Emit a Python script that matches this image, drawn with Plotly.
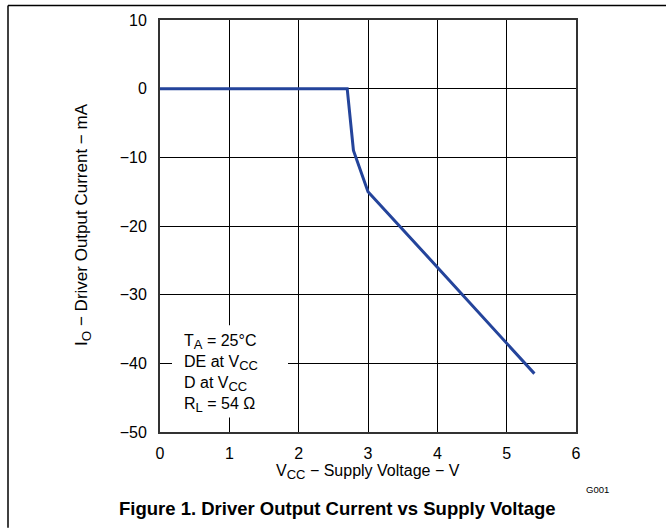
import plotly.graph_objects as go

# Data
vcc = [0, 2.7, 2.79, 3.0, 4.0, 5.4]
io_ma = [0, 0, -9, -15, -26, -41.5]

x_ticks = [0, 1, 2, 3, 4, 5, 6]
y_ticks = [10, 0, -10, -20, -30, -40, -50]

cond_lines = [
    "T<sub><span style='font-size:13px'>A</span></sub> = 25°C",
    "DE at V<sub><span style='font-size:13px'>CC</span></sub>",
    "D at V<sub><span style='font-size:13px'>CC</span></sub>",
    "R<sub><span style='font-size:13px'>L</span></sub> = 54 Ω",
]
x_title = "V<sub><span style='font-size:13px'>CC</span></sub> − Supply Voltage − V"
y_title = "I<sub><span style='font-size:13.5px'>O</span></sub> − Driver Output Current − mA"
fig_title = "<b>Figure 1. Driver Output Current vs Supply Voltage</b>"

FONT = "Arial, Liberation Sans, sans-serif"
W, H = 671, 529
ML, MR, MT, MB = 160, 95, 17.5, 96.5
PW, PH = W - ML - MR, H - MT - MB


def px(xp):
    return (xp - ML) / PW


def py(yp):
    return (H - MB - yp) / PH


fig = go.Figure()
fig.add_trace(go.Scatter(
    x=vcc, y=io_ma, mode="lines",
    line=dict(color="#24449b", width=3),
    showlegend=False, hoverinfo="skip",
))

axis_common = dict(
    showgrid=True, gridcolor="black", gridwidth=1, zeroline=False,
    showline=True, linecolor="#333333", linewidth=2, mirror=True,
    ticks="", ticklen=0, tickfont=dict(size=16, family=FONT),
)

fig.update_layout(
    width=W, height=H,
    margin=dict(l=ML, r=MR, t=MT, b=MB, pad=0),
    paper_bgcolor="white", plot_bgcolor="white",
    font=dict(family=FONT, size=16, color="black"),
    xaxis=dict(range=[0, 6], tickvals=x_ticks, ticklabelstandoff=6, **axis_common),
    yaxis=dict(range=[-50, 10], tickvals=y_ticks, ticklabelstandoff=8, **axis_common),
)

shapes = [
    # white box behind condition text
    dict(type="rect", xref="paper", yref="paper", layer="above",
         x0=px(172), x1=px(288), y0=py(418), y1=py(325),
         fillcolor="white", line=dict(width=0)),
    # outer frame (left and top)
    dict(type="line", xref="paper", yref="paper", layer="above",
         x0=px(8), x1=px(8), y0=py(3), y1=py(529),
         line=dict(color="black", width=1.5)),
    dict(type="line", xref="paper", yref="paper", layer="above",
         x0=px(8), x1=px(666), y0=py(3), y1=py(3),
         line=dict(color="black", width=1.5)),
]
fig.update_layout(shapes=shapes)

annots = []
for i, t in enumerate(cond_lines):
    annots.append(dict(
        xref="paper", yref="paper", x=px(182), y=py(342 + 21 * i),
        xanchor="left", yanchor="middle", align="left", showarrow=False,
        text=t, font=dict(size=16, family=FONT)))
annots += [
    dict(xref="paper", yref="paper", x=0.5, y=py(473),
         xanchor="center", yanchor="middle", showarrow=False,
         text=x_title, font=dict(size=16, family=FONT)),
    dict(xref="paper", yref="paper", x=px(83), y=py(224), textangle=-90,
         xanchor="center", yanchor="middle", showarrow=False,
         text=y_title, font=dict(size=17, family=FONT)),
    dict(xref="paper", yref="paper", x=px(597), y=py(490),
         xanchor="center", yanchor="middle", showarrow=False,
         text="G001", font=dict(size=9.5, family=FONT)),
    dict(xref="paper", yref="paper", x=px(337), y=py(510),
         xanchor="center", yanchor="middle", showarrow=False,
         text=fig_title, font=dict(size=18.5, family=FONT)),
]
fig.update_layout(annotations=annots)

fig.write_html("out.html", config={"displayModeBar": False},
               post_script="document.body.style.margin='0px';")
